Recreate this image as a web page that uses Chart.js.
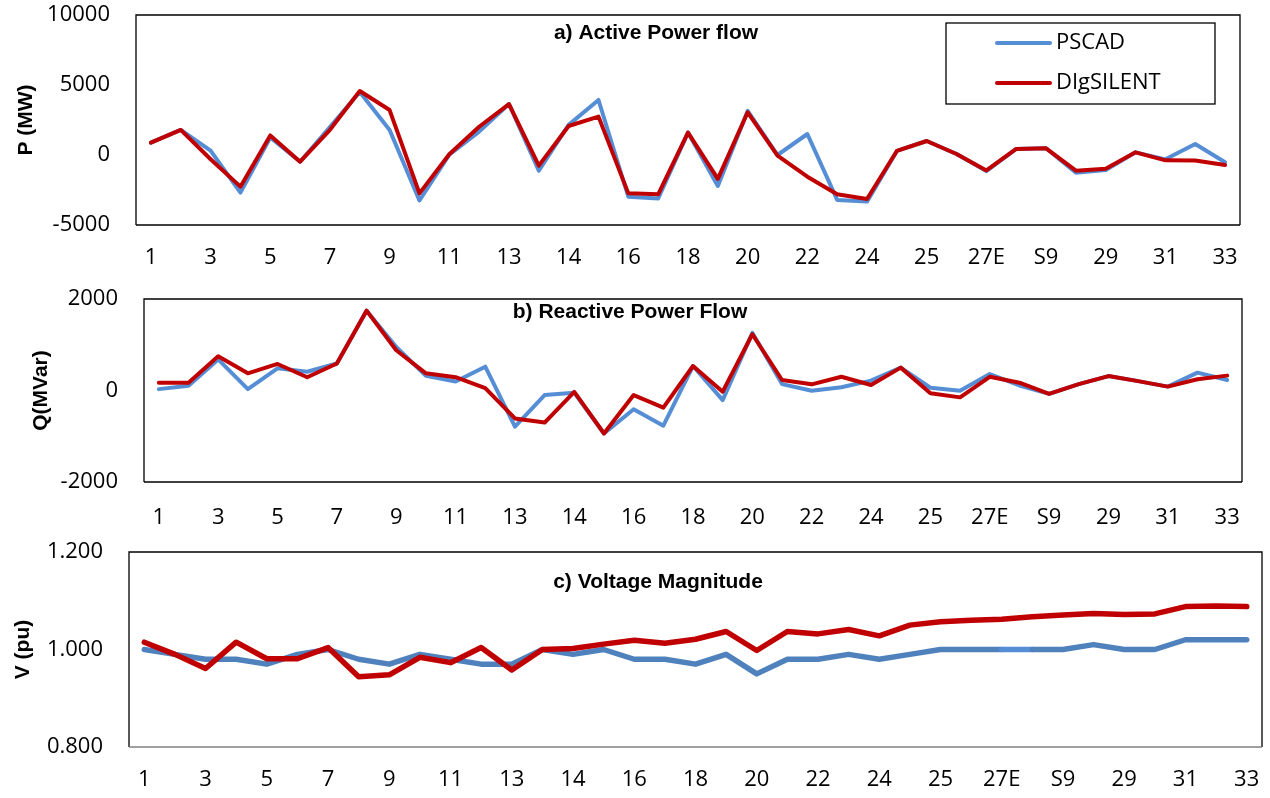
<!DOCTYPE html>
<html>
<head>
<meta charset="utf-8">
<script src="https://cdn.jsdelivr.net/npm/chart.js@4.4.1/dist/chart.umd.min.js"></script>
<style>
  body { margin: 0; background: #fff; }
  canvas { position: absolute; left: 0; }
</style>
</head>
<body>
<canvas id="chartP" width="1270" height="275" style="top:0px"></canvas>
<canvas id="chartQ" width="1270" height="255" style="top:275px"></canvas>
<canvas id="chartV" width="1270" height="268" style="top:530px"></canvas>
<script>
// bus / line labels along the x axis (only every other one is printed)
const buses = ["1","2","3","4","5","6","7","8","9","10","11","12","13","13A","14","15","16","17","18","19",
  "20","21","22","23","24","24A","25","26","27E","27W","S9","28","29","30","31","32","33"];

// a) active power flow, MW
const pPscad = [880, 1790, 310, -2690, 1250, -480, 2000, 4500, 1790, -3250, 30, 1670, 3640, -1120, 2150, 3930, -2980, -3100, 1600, -2210,
  3150, 0, 1500, -3210, -3330, 290, 1000, 70, -1150, 430, 480, -1260, -1080, 190, -310, 790, -520];
const pDig = [880, 1790, -300, -2260, 1400, -480, 1800, 4570, 3210, -2740, 50, 2020, 3640, -760, 2070, 2740, -2740, -2810, 1600, -1710,
  3050, -50, -1550, -2810, -3140, 290, 1000, 70, -1100, 430, 480, -1120, -980, 190, -380, -400, -710];

// b) reactive power flow, MVar
const qPscad = [30, 105, 680, 30, 485, 410, 590, 1745, 950, 320, 195, 520, -790, -100, -50, -940, -410, -770, 535, -210,
  1260, 140, -5, 70, 215, 500, 60, -5, 360, 110, -75, 140, 315, 205, 85, 390, 230];
const qDig = [170, 170, 750, 375, 580, 290, 590, 1745, 880, 375, 290, 50, -610, -700, -30, -940, -100, -375, 535, -25,
  1230, 230, 135, 300, 120, 500, -60, -150, 300, 170, -75, 140, 315, 205, 85, 245, 325];

// c) voltage magnitude, pu
const vPscad = [1.00, 0.99, 0.98, 0.98, 0.97, 0.99, 1.00, 0.98, 0.97, 0.99, 0.98, 0.97, 0.97, 1.00, 0.99, 1.00, 0.98, 0.98, 0.97, 0.99,
  0.95, 0.98, 0.98, 0.99, 0.98, 0.99, 1.00, 1.00, 1.00, 1.00, 1.00, 1.01, 1.00, 1.00, 1.02, 1.02, 1.02];
const vDig = [1.015, 0.990, 0.961, 1.015, 0.981, 0.981, 1.004, 0.944, 0.948, 0.984, 0.973, 1.004, 0.958, 1.000, 1.002, 1.011, 1.019, 1.013, 1.021, 1.037,
  0.998, 1.037, 1.032, 1.041, 1.028, 1.050, 1.057, 1.060, 1.062, 1.067, 1.071, 1.074, 1.072, 1.073, 1.088, 1.089, 1.088];

const seriesNames = ["PSCAD", "DIgSILENT"];

const TICK_FONT = { family: "'Open Sans'", size: 22 };
const BOLD_FONT = { family: "'Liberation Sans', Arial", size: 21, weight: "bold" };

// box around the plot area
const framePlugin = {
  id: 'frame',
  beforeDatasetsDraw(chart, args, opts) {
    const { ctx, chartArea: { left, top, right, bottom } } = chart;
    ctx.save();
    ctx.lineWidth = 1.3;
    ctx.strokeStyle = '#000';
    ctx.beginPath();
    ctx.moveTo(left, bottom);
    ctx.lineTo(left, top);
    ctx.lineTo(right, top);
    ctx.lineTo(right, bottom);
    ctx.stroke();
    ctx.strokeStyle = opts.bottomColor || '#000';
    ctx.lineWidth = opts.bottomWidth || 1.3;
    ctx.beginPath();
    ctx.moveTo(left, bottom);
    ctx.lineTo(right, bottom);
    ctx.stroke();
    ctx.restore();
  }
};

// panel title written inside the plot box
const panelTitlePlugin = {
  id: 'panelTitle',
  afterDraw(chart, args, opts) {
    if (!opts.text) return;
    const ctx = chart.ctx;
    ctx.save();
    ctx.font = 'bold 21px "Liberation Sans", Arial';
    ctx.fillStyle = '#000';
    ctx.textAlign = 'center';
    ctx.textBaseline = 'middle';
    ctx.fillText(opts.text, opts.x, opts.y);
    ctx.restore();
  }
};

// Excel-like boxed legend, only on the first panel
const boxLegendPlugin = {
  id: 'boxLegend',
  afterDraw(chart, args, opts) {
    if (!opts.show) return;
    const ctx = chart.ctx;
    ctx.save();
    ctx.lineWidth = 1.3;
    ctx.strokeStyle = '#000';
    ctx.strokeRect(opts.x, opts.y, opts.w, opts.h);
    ctx.font = "22px 'Open Sans'";
    ctx.textBaseline = 'middle';
    ctx.textAlign = 'left';
    chart.data.datasets.forEach((ds, i) => {
      const ly = opts.y + 20 + i * 40;
      ctx.strokeStyle = ds.borderColor;
      ctx.lineWidth = 4;
      ctx.lineCap = 'round';
      ctx.beginPath();
      ctx.moveTo(opts.x + 51, ly);
      ctx.lineTo(opts.x + 104, ly);
      ctx.stroke();
      ctx.fillStyle = '#000';
      ctx.fillText(ds.label, opts.x + 110, ly);
    });
    ctx.restore();
  }
};

function drawPanel(canvasId, cfg) {
  const canvas = document.getElementById(canvasId);
  const H = canvas.height;
  return new Chart(canvas.getContext('2d'), {
    type: 'line',
    data: {
      labels: buses,
      datasets: [
        {
          label: seriesNames[0],
          data: cfg.blue,
          borderColor: cfg.blueColor,
          borderWidth: cfg.lineWidth,
          pointRadius: 0,
          tension: 0,
          borderCapStyle: 'round',
          borderJoinStyle: 'round',
          order: 1,
          segment: cfg.blueSegment
        },
        {
          label: seriesNames[1],
          data: cfg.red,
          borderColor: '#C00000',
          borderWidth: cfg.lineWidth,
          pointRadius: 0,
          tension: 0,
          borderCapStyle: 'round',
          borderJoinStyle: 'round',
          order: 0
        }
      ]
    },
    options: {
      responsive: false,
      animation: false,
      layout: { padding: { left: 0, right: 1270 - cfg.area.right, top: cfg.area.top, bottom: 0 } },
      scales: {
        x: {
          offset: true,
          grid: { display: false, drawTicks: false },
          border: { display: false },
          ticks: {
            autoSkip: false,
            maxRotation: 0,
            padding: cfg.xPad,
            color: '#000',
            font: TICK_FONT,
            callback: function (value, index) {
              return index % 2 === 0 ? this.getLabelForValue(value) : '';
            }
          },
          afterFit(scale) {
            scale.height = H - cfg.area.bottom;
            scale.paddingLeft = 0;
            scale.paddingRight = 0;
          }
        },
        y: {
          min: cfg.yMin,
          max: cfg.yMax,
          grid: { display: false, drawTicks: false },
          border: { display: false },
          ticks: {
            stepSize: cfg.yStep,
            padding: 26,
            color: '#000',
            font: TICK_FONT,
            callback: value => value.toFixed(cfg.decimals)
          },
          title: {
            display: true,
            text: cfg.yTitle,
            color: '#000',
            font: BOLD_FONT,
            padding: { top: cfg.yTitlePad, bottom: 0 }
          },
          afterFit(scale) {
            scale.width = cfg.area.left;
            // keep the tick padding from pushing the plot box down
            scale.paddingTop = 0;
            scale.paddingBottom = 0;
          }
        }
      },
      plugins: {
        legend: { display: false },
        tooltip: { enabled: false },
        frame: { bottomColor: cfg.bottomColor, bottomWidth: cfg.bottomWidth },
        panelTitle: cfg.title,
        boxLegend: cfg.legend || { show: false }
      }
    },
    plugins: [framePlugin, panelTitlePlugin, boxLegendPlugin]
  });
}

// a) Active power flow
drawPanel('chartP', {
  blue: pPscad, red: pDig, blueColor: '#558ED5', lineWidth: 4,
  area: { left: 136, right: 1240, top: 15, bottom: 225 },
  yMin: -5000, yMax: 10000, yStep: 5000, decimals: 0,
  yTitle: 'P (MW)', yTitlePad: 14, xPad: 20,
  title: { text: 'a) Active Power flow', x: 656, y: 33 },
  legend: { show: true, x: 946, y: 23, w: 269, h: 81 }
});

// b) Reactive power flow
drawPanel('chartQ', {
  blue: qPscad, red: qDig, blueColor: '#558ED5', lineWidth: 4,
  area: { left: 144, right: 1242, top: 24, bottom: 207 },
  yMin: -2000, yMax: 2000, yStep: 2000, decimals: 0,
  yTitle: 'Q(MVar)', yTitlePad: 29, xPad: 23,
  title: { text: 'b) Reactive Power Flow', x: 630, y: 37 }
});

// c) Voltage magnitude
drawPanel('chartV', {
  blue: vPscad, red: vDig, blueColor: '#4F81BD', lineWidth: 5.5,
  blueSegment: { borderColor: ctx => ctx.p0DataIndex === 28 ? '#558ED5' : undefined },
  area: { left: 129, right: 1262, top: 22, bottom: 217 },
  yMin: 0.8, yMax: 1.2, yStep: 0.2, decimals: 3,
  yTitle: 'V (pu)', yTitlePad: 11, xPad: 20,
  bottomColor: '#808080', bottomWidth: 1.6,
  title: { text: 'c) Voltage Magnitude', x: 658, y: 52 }
});
</script>
</body>
</html>
